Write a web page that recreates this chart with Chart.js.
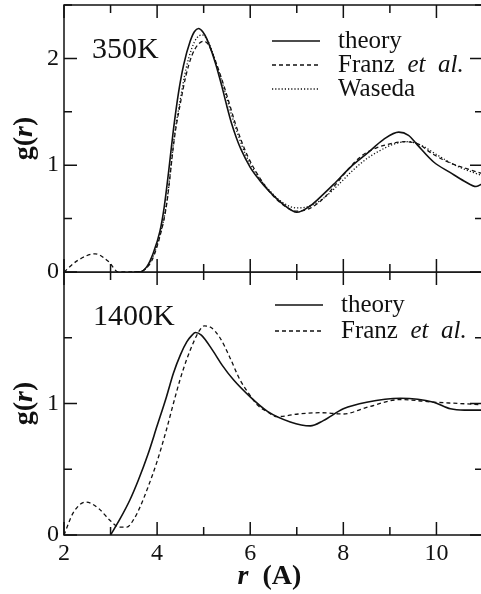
<!DOCTYPE html>
<html>
<head>
<meta charset="utf-8">
<title>g(r)</title>
<script src="https://cdn.jsdelivr.net/npm/chart.js@4/dist/chart.umd.min.js"></script>
<style>
    html, body { margin: 0; padding: 0; background: #fff; overflow: hidden; }
    #wrap { position: relative; width: 481px; height: 594px; overflow: hidden; }
    #wrap canvas { position: absolute; left: 0; }
    #topChart { top: 0; }
    #botChart { top: 272px; }
</style>
</head>
<body>
<div id="wrap">
    <canvas id="topChart" width="483" height="300"></canvas>
    <canvas id="botChart" width="483" height="322"></canvas>
</div>
<script>
// tick labels
const xTicks = [2, 4, 6, 8, 10];
const yTicksTop = [0, 1, 2];
const yTicksBottom = [0, 1];
const seriesNames = ['theory', 'Franz et al.', 'Waseda'];

// 350K
const r350Theory = [3.5, 3.63, 3.78, 3.92, 4.06, 4.15, 4.25, 4.35, 4.46, 4.57, 4.71, 4.8, 4.89, 4.98, 5.07, 5.25, 5.39, 5.5, 5.6, 5.7, 5.8, 6.0, 6.2, 6.4, 6.72, 7.0, 7.29, 7.55, 7.79, 8.15, 8.51, 8.86, 9.19, 9.4, 9.59, 9.94, 10.3, 10.6, 10.85, 11];
const g350Theory = [0, 0, 0.05, 0.18, 0.38, 0.6, 0.95, 1.33, 1.68, 1.94, 2.16, 2.25, 2.28, 2.25, 2.18, 1.96, 1.74, 1.55, 1.39, 1.26, 1.15, 0.98, 0.86, 0.76, 0.63, 0.56, 0.62, 0.72, 0.82, 0.98, 1.11, 1.24, 1.31, 1.28, 1.19, 1.03, 0.93, 0.85, 0.8, 0.83];

const r350Franz = [2.0, 2.3, 2.67, 2.95, 3.17, 3.3, 3.6, 3.75, 3.9, 4.07, 4.2, 4.38, 4.5, 4.62, 4.75, 4.88, 5.0, 5.1, 5.25, 5.43, 5.55, 5.68, 5.8, 5.95, 6.15, 6.4, 6.7, 7.0, 7.3, 7.6, 7.8, 8.1, 8.4, 8.7, 9.0, 9.3, 9.6, 9.9, 10.3, 10.7, 11];
const g350Franz = [0, 0.11, 0.17, 0.1, 0, 0, 0, 0.03, 0.12, 0.35, 0.62, 1.28, 1.58, 1.84, 2.03, 2.13, 2.16, 2.13, 1.98, 1.75, 1.58, 1.39, 1.24, 1.08, 0.92, 0.76, 0.63, 0.57, 0.6, 0.7, 0.8, 0.96, 1.09, 1.16, 1.2, 1.22, 1.2, 1.11, 1.02, 0.96, 0.92];

const r350Waseda = [3.6, 3.75, 3.9, 4.07, 4.2, 4.38, 4.5, 4.62, 4.75, 4.85, 4.96, 5.07, 5.25, 5.43, 5.6, 5.75, 5.9, 6.1, 6.4, 6.7, 7.0, 7.3, 7.6, 7.9, 8.2, 8.5, 8.8, 9.1, 9.4, 9.7, 10.0, 10.4, 10.8, 11];
const g350Waseda = [0, 0.03, 0.13, 0.36, 0.63, 1.3, 1.62, 1.9, 2.1, 2.19, 2.22, 2.18, 1.98, 1.73, 1.47, 1.27, 1.1, 0.94, 0.77, 0.65, 0.6, 0.62, 0.7, 0.82, 0.95, 1.06, 1.14, 1.2, 1.22, 1.18, 1.1, 1.0, 0.93, 0.9];

// 1400K
const r1400Theory = [3.0, 3.2, 3.42, 3.6, 3.8, 4.0, 4.2, 4.35, 4.5, 4.64, 4.75, 4.82, 4.95, 5.2, 5.4, 5.64, 6.0, 6.37, 6.86, 7.29, 7.57, 8.0, 8.5, 9.23, 9.94, 10.3, 10.6, 11];
const g1400Theory = [0, 0.12, 0.27, 0.42, 0.61, 0.83, 1.05, 1.23, 1.37, 1.47, 1.52, 1.54, 1.52, 1.4, 1.29, 1.18, 1.05, 0.94, 0.86, 0.83, 0.87, 0.96, 1.01, 1.04, 1.01, 0.96, 0.95, 0.95];

const r1400Franz = [2.0, 2.2, 2.47, 2.75, 2.99, 3.2, 3.35, 3.5, 3.63, 3.8, 4.0, 4.2, 4.35, 4.5, 4.64, 4.8, 4.9, 5.01, 5.15, 5.35, 5.55, 5.78, 6.0, 6.15, 6.35, 6.58, 7.03, 7.5, 8.0, 8.5, 9.23, 9.94, 10.5, 11];
const g1400Franz = [0, 0.17, 0.25, 0.2, 0.11, 0.06, 0.06, 0.12, 0.21, 0.36, 0.56, 0.8, 1.0, 1.19, 1.34, 1.48, 1.55, 1.59, 1.58, 1.5, 1.36, 1.18, 1.06, 0.99, 0.94, 0.9, 0.92, 0.93, 0.92, 0.97, 1.03, 1.01, 1.0, 0.99];

const SERIF = '"Liberation Serif", "DejaVu Serif", serif';
const INK = '#111';

function pts(r, g) {
    return r.map((v, i) => ({ x: v, y: g[i] }));
}

function line(label, r, g, dash, width) {
    return {
        label: label,
        data: pts(r, g),
        borderColor: INK,
        borderWidth: width,
        borderDash: dash,
        pointRadius: 0,
        fill: false,
        cubicInterpolationMode: 'monotone'
    };
}

// frame, inward ticks, panel label, legend and axis titles
const panelDeco = {
    id: 'panelDeco',
    afterDraw(chart, args, opts) {
        const ctx = chart.ctx;
        const a = chart.chartArea;
        const xs = chart.scales.x, ys = chart.scales.y;
        ctx.save();
        ctx.strokeStyle = INK;
        ctx.fillStyle = INK;
        ctx.lineWidth = 1.5;
        ctx.setLineDash([]);
        ctx.strokeRect(a.left, a.top, a.right - a.left, a.bottom - a.top);

        ctx.beginPath();
        for (let v = xs.min; v <= xs.max + 1e-9; v += 1) {
            const px = xs.getPixelForValue(v);
            const len = v % 2 === 0 ? 13 : 8;
            ctx.moveTo(px, a.bottom); ctx.lineTo(px, a.bottom - len);
            ctx.moveTo(px, a.top); ctx.lineTo(px, a.top + len);
        }
        for (let v = ys.min; v <= ys.max + 1e-9; v += 0.5) {
            const py = ys.getPixelForValue(v);
            const len = Number.isInteger(v) ? 13 : 8;
            ctx.moveTo(a.left, py); ctx.lineTo(a.left + len, py);
            ctx.moveTo(a.right, py); ctx.lineTo(a.right - len, py);
        }
        ctx.stroke();

        // panel label
        ctx.font = '30px ' + SERIF;
        ctx.textBaseline = 'alphabetic';
        ctx.textAlign = 'left';
        ctx.fillText(opts.label, opts.labelX, opts.labelY);

        // legend
        ctx.textBaseline = 'middle';
        chart.data.datasets.forEach((ds, i) => {
            const y = opts.legendY + i * opts.legendStep;
            ctx.lineWidth = ds.borderWidth;
            ctx.setLineDash(ds.borderDash);
            ctx.beginPath();
            ctx.moveTo(opts.legendX, y);
            ctx.lineTo(opts.legendX + 48, y);
            ctx.stroke();
            ctx.setLineDash([]);
            let tx = opts.legendX + 66;
            const parts = ds.label.split(' et al.');
            ctx.font = '25px ' + SERIF;
            ctx.fillText(parts[0], tx, y);
            if (parts.length > 1) {
                tx += ctx.measureText(parts[0] + '  ').width;
                ctx.font = 'italic 25px ' + SERIF;
                ctx.fillText('et  al.', tx, y);
            }
        });

        // y title g(r), rotated
        ctx.save();
        ctx.translate(opts.yTitleX, (a.top + a.bottom) / 2);
        ctx.rotate(-Math.PI / 2);
        ctx.textBaseline = 'middle';
        const bold = 'bold 28px ' + SERIF, boldIt = 'italic bold 28px ' + SERIF;
        const seg = [['g(', bold], ['r', boldIt], [')', bold]];
        let w = 0;
        seg.forEach(s => { ctx.font = s[1]; w += ctx.measureText(s[0]).width; });
        let x0 = -w / 2;
        seg.forEach(s => { ctx.font = s[1]; ctx.fillText(s[0], x0, 0); x0 += ctx.measureText(s[0]).width; });
        ctx.restore();

        // x title r (A)
        if (opts.xTitleY) {
            ctx.textBaseline = 'alphabetic';
            const xseg = [['r', boldIt], ['  (A)', bold]];
            let xw = 0;
            xseg.forEach(s => { ctx.font = s[1]; xw += ctx.measureText(s[0]).width; });
            let xx = (a.left + a.right) / 2 + opts.xTitleShift - xw / 2;
            xseg.forEach(s => { ctx.font = s[1]; ctx.fillText(s[0], xx, opts.xTitleY); xx += ctx.measureText(s[0]).width; });
        }
        ctx.restore();
    }
};

function yScale(max, tickList) {
    return {
        type: 'linear',
        min: 0,
        max: max,
        afterBuildTicks: s => { s.ticks = tickList.map(v => ({ value: v })); },
        grid: { display: false, drawTicks: false },
        border: { display: false },
        ticks: { color: INK, padding: 5, font: { family: SERIF, size: 24 } },
        afterFit: s => { s.width = 64; s.paddingTop = 0; s.paddingBottom = 0; }
    };
}

new Chart(document.getElementById('topChart').getContext('2d'), {
    type: 'line',
    data: {
        datasets: [
            line(seriesNames[0], r350Theory, g350Theory, [], 1.6),
            line(seriesNames[1], r350Franz, g350Franz, [4, 3], 1.3),
            line(seriesNames[2], r350Waseda, g350Waseda, [1.2, 2], 1.3)
        ]
    },
    options: {
        responsive: false,
        animation: false,
        layout: { padding: { top: 5, bottom: 28, left: 0, right: 0 } },
        plugins: {
            legend: { display: false },
            tooltip: { enabled: false },
            panelDeco: {
                label: '350K', labelX: 92, labelY: 58,
                legendX: 272, legendY: 41, legendStep: 24,
                yTitleX: 25
            }
        },
        scales: {
            x: { type: 'linear', min: 2, max: 11, display: false },
            y: yScale(2.5, yTicksTop)
        }
    },
    plugins: [panelDeco]
});

new Chart(document.getElementById('botChart').getContext('2d'), {
    type: 'line',
    data: {
        datasets: [
            line(seriesNames[0], r1400Theory, g1400Theory, [], 1.6),
            line(seriesNames[1], r1400Franz, g1400Franz, [4, 3], 1.3)
        ]
    },
    options: {
        responsive: false,
        animation: false,
        layout: { padding: 0 },
        plugins: {
            legend: { display: false },
            tooltip: { enabled: false },
            panelDeco: {
                label: '1400K', labelX: 93, labelY: 53,
                legendX: 275, legendY: 33, legendStep: 26,
                yTitleX: 25, xTitleY: 312, xTitleShift: -4
            }
        },
        scales: {
            x: {
                type: 'linear',
                min: 2,
                max: 11,
                afterBuildTicks: s => { s.ticks = xTicks.map(v => ({ value: v })); },
                grid: { display: false, drawTicks: false },
                border: { display: false },
                ticks: { color: INK, padding: 4, maxRotation: 0, autoSkip: false, font: { family: SERIF, size: 24 } },
                afterFit: s => { s.height = 59; s.paddingLeft = 0; s.paddingRight = 0; }
            },
            y: yScale(2, yTicksBottom)
        }
    },
    plugins: [panelDeco]
});
</script>
</body>
</html>
